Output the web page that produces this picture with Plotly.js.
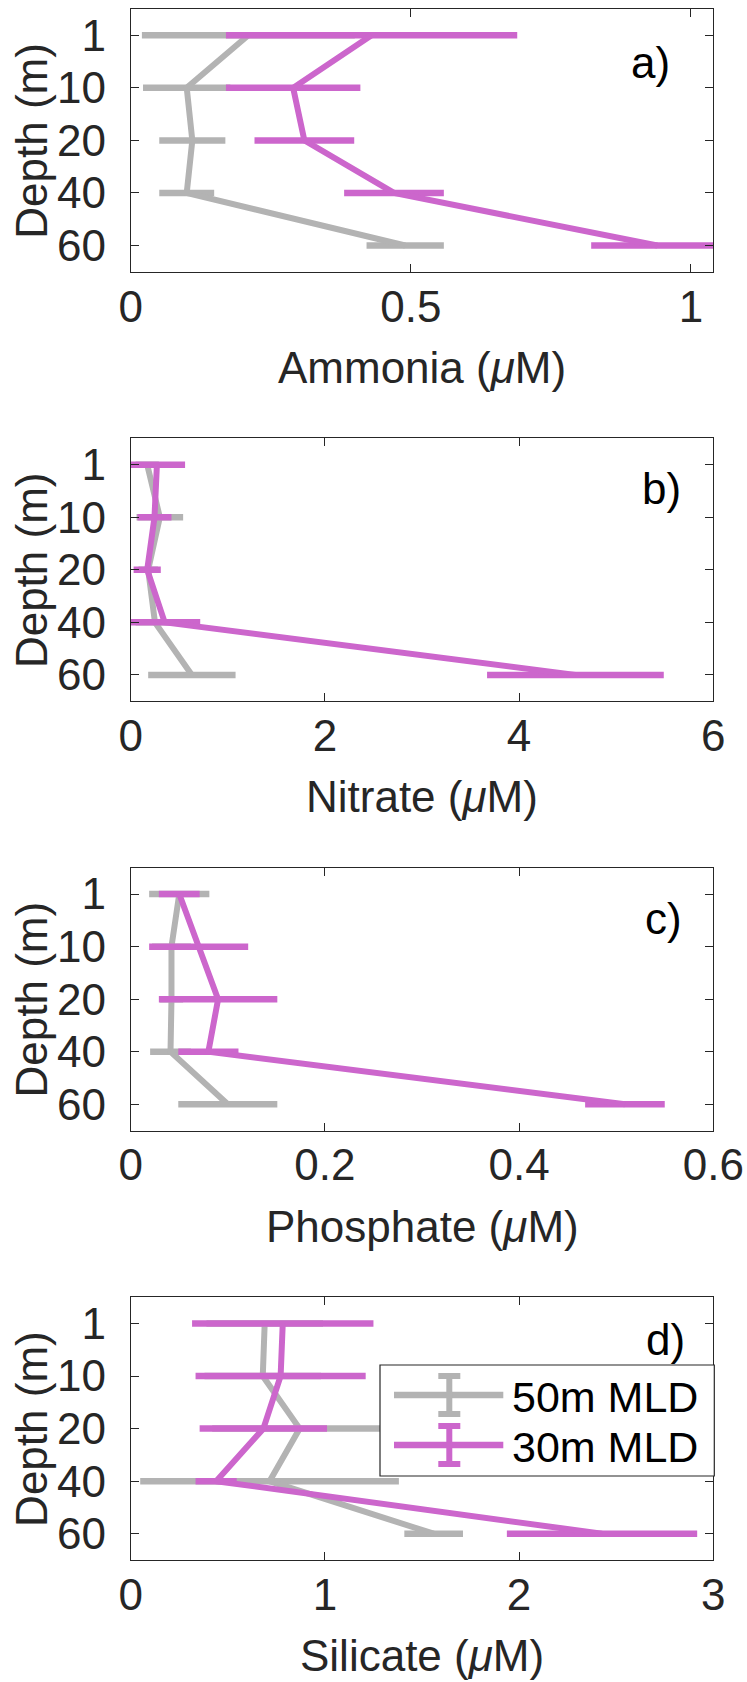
<!DOCTYPE html>
<html>
<head>
<meta charset="utf-8">
<script src="https://cdn.plot.ly/plotly-3.0.1.min.js"></script>
<style>html,body{margin:0;padding:0;background:#fff;}#chart{width:747px;height:1682px;}</style>
</head>
<body>
<div id="chart"></div>
<script>
// ---------- data ----------
var depthLabels = ['1', '10', '20', '40', '60'];

var ammonia50 = [0.21, 0.10, 0.11, 0.10, 0.49];
var ammonia50Err = [0.19, 0.078, 0.059, 0.049, 0.069];
var ammonia30 = [0.43, 0.29, 0.31, 0.47, 0.94];
var ammonia30Err = [0.26, 0.12, 0.089, 0.089, 0.118];

var nitrate50 = [0.17, 0.30, 0.18, 0.25, 0.63];
var nitrate50Err = [0.12, 0.24, 0.10, 0.20, 0.45];
var nitrate30 = [0.27, 0.245, 0.17, 0.35, 4.58];
var nitrate30Err = [0.29, 0.175, 0.14, 0.366, 0.91];

var phosphate50 = [0.050, 0.042, 0.042, 0.041, 0.100];
var phosphate50Err = [0.031, 0.020, 0.012, 0.021, 0.051];
var phosphate30 = [0.050, 0.070, 0.090, 0.080, 0.509];
var phosphate30Err = [0.021, 0.051, 0.061, 0.031, 0.041];

var silicate50 = [0.69, 0.68, 0.87, 0.715, 1.56];
var silicate50Err = [0.30, 0.30, 0.45, 0.666, 0.151];
var silicate30 = [0.783, 0.772, 0.683, 0.44, 2.427];
var silicate30Err = [0.467, 0.438, 0.328, 0.106, 0.49];

var seriesNames = ['50m MLD', '30m MLD'];
var panelTitles = ['Ammonia (<i>μ</i>M)', 'Nitrate (<i>μ</i>M)', 'Phosphate (<i>μ</i>M)', 'Silicate (<i>μ</i>M)'];
var panelLetters = ['a)', 'b)', 'c)', 'd)'];
var xRanges = [[0, 1.04], [0, 6], [0, 0.6], [0, 3]];
var xTicks = [[0, 0.5, 1], [0, 2, 4, 6], [0, 0.2, 0.4, 0.6], [0, 1, 2, 3]];

// ---------- style / layout ----------
var W = 747, H = 1682;
var GRAY = '#b3b3b3', MAG = '#cc66cc', AX = '#262626';
var FONT = 'Liberation Sans, Arial, Helvetica, sans-serif';
var FS = 44;
var MID = 0.3465 * FS;           // baseline -> text-box centre
var boxL = 130.7, boxR = 713.3;
var tops = [9, 438.4, 867.8, 1297.2];
var boxH = 262.8;
var labelRight = [672, 683, 684, 687];
var labelBase = [77.3, 503.3, 933.3, 1355];

function px(x) { return x / W; }
function py(y) { return 1 - y / H; }

var groups = [
  [ammonia50, ammonia50Err, ammonia30, ammonia30Err],
  [nitrate50, nitrate50Err, nitrate30, nitrate30Err],
  [phosphate50, phosphate50Err, phosphate30, phosphate30Err],
  [silicate50, silicate50Err, silicate30, silicate30Err]
];

var data = [];
var layout = {
  width: W, height: H,
  margin: {l: 0, r: 0, t: 0, b: 0},
  paper_bgcolor: '#ffffff', plot_bgcolor: '#ffffff',
  showlegend: false,
  font: {family: FONT, size: FS, color: AX},
  annotations: [], shapes: []
};

groups.forEach(function (g, i) {
  var n = i === 0 ? '' : String(i + 1);
  var xa = 'x' + n, ya = 'y' + n;
  var cols = [GRAY, MAG];
  for (var s = 0; s < 2; s++) {
    data.push({
      type: 'scatter', mode: 'lines', name: seriesNames[s],
      x: g[2 * s], y: depthLabels,
      xaxis: xa, yaxis: ya,
      line: {color: cols[s], width: 6},
      cliponaxis: false,
      error_x: {type: 'data', array: g[2 * s + 1], visible: true, color: cols[s], thickness: 6.5, width: 0}
    });
  }
  var top = tops[i], bot = tops[i] + boxH;
  layout['xaxis' + n] = {
    domain: [px(boxL), px(boxR)], anchor: ya,
    range: xRanges[i], tickmode: 'array', tickvals: xTicks[i],
    ticks: 'inside', ticklen: 8, tickwidth: 1, tickcolor: AX,
    showline: true, linecolor: AX, linewidth: 1, mirror: 'ticks',
    showgrid: false, zeroline: false,
    tickfont: {family: FONT, size: FS, color: AX},
    ticklabelstandoff: -4
  };
  layout['yaxis' + n] = {
    domain: [py(bot), py(top)], anchor: xa,
    type: 'category', categoryorder: 'array', categoryarray: depthLabels,
    tickmode: 'array', tickvals: depthLabels, ticktext: depthLabels,
    range: [4.5, -0.5],
    ticks: 'inside', ticklen: 8, tickwidth: 1, tickcolor: AX,
    showline: true, linecolor: AX, linewidth: 1, mirror: 'ticks',
    showgrid: false, zeroline: false,
    tickfont: {family: FONT, size: FS, color: AX},
    ticklabelstandoff: 15
  };
  // x title
  layout.annotations.push({
    xref: 'paper', yref: 'paper', x: px((boxL + boxR) / 2), y: py(bot + 111 - MID),
    xanchor: 'center', yanchor: 'middle', showarrow: false,
    text: panelTitles[i], font: {family: FONT, size: FS, color: AX}
  });
  // y title
  layout.annotations.push({
    xref: 'paper', yref: 'paper', x: px(31.3), y: py((top + bot) / 2),
    xanchor: 'center', yanchor: 'middle', showarrow: false, textangle: -90,
    text: 'Depth (m)', font: {family: FONT, size: FS, color: AX}
  });
  // panel letter
  layout.annotations.push({
    xref: 'paper', yref: 'paper', x: px(labelRight[i]), y: py(labelBase[i] - MID),
    xanchor: 'right', yanchor: 'middle', showarrow: false,
    text: panelLetters[i], font: {family: FONT, size: FS, color: '#000'}
  });
});

// ---------- legend (panel d) ----------
var LFS = 43;
var lg = {l: 380, r: 714.3, t: 1365, b: 1476};
layout.shapes.push({type: 'rect', xref: 'paper', yref: 'paper', layer: 'above',
  x0: px(lg.l), x1: px(lg.r), y0: py(lg.b), y1: py(lg.t),
  line: {color: AX, width: 1.2}, fillcolor: '#ffffff'});
var legY = [1395, 1445];
var legCols = [GRAY, MAG];
var barHalf = 22, capHalf = 11, cx = 449.3;
for (var k = 0; k < 2; k++) {
  var yy = legY[k];
  var c = legCols[k];
  layout.shapes.push({type: 'line', xref: 'paper', yref: 'paper', layer: 'above',
    x0: px(394), x1: px(503.3), y0: py(yy), y1: py(yy), line: {color: c, width: 6.5}});
  layout.shapes.push({type: 'line', xref: 'paper', yref: 'paper', layer: 'above',
    x0: px(cx), x1: px(cx), y0: py(yy - barHalf), y1: py(yy + barHalf), line: {color: c, width: 6}});
  layout.shapes.push({type: 'line', xref: 'paper', yref: 'paper', layer: 'above',
    x0: px(cx - capHalf), x1: px(cx + capHalf), y0: py(yy - barHalf + 3), y1: py(yy - barHalf + 3), line: {color: c, width: 6}});
  layout.shapes.push({type: 'line', xref: 'paper', yref: 'paper', layer: 'above',
    x0: px(cx - capHalf), x1: px(cx + capHalf), y0: py(yy + barHalf - 3), y1: py(yy + barHalf - 3), line: {color: c, width: 6}});
  layout.annotations.push({
    xref: 'paper', yref: 'paper', x: px(509.5), y: py(yy + 16.7 - 0.3465 * LFS),
    xanchor: 'left', yanchor: 'middle', showarrow: false,
    text: seriesNames[k], font: {family: FONT, size: LFS, color: '#000'}
  });
}

Plotly.newPlot('chart', data, layout, {staticPlot: true, displayModeBar: false});
</script>
</body>
</html>
